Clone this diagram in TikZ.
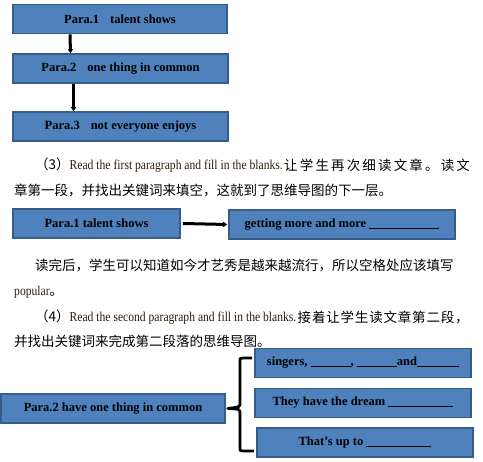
\documentclass[tikz,border=0pt]{standalone}
\usepackage{fontspec}
\setmainfont{Liberation Serif}
\newfontfamily\cjk{Noto Sans CJK SC}
\newfontfamily\cjkwide[LetterSpace=16]{Noto Sans CJK SC}
\newfontfamily\cjkmid[LetterSpace=6]{Noto Sans CJK SC}
\newfontfamily\engfont[FakeStretch=0.86]{Liberation Serif}
\usetikzlibrary{arrows.meta, positioning}

\definecolor{boxfill}{RGB}{79,129,189}
\definecolor{boxline}{RGB}{56,93,138}
\definecolor{engtext}{RGB}{45,28,5}
\newcommand{\eng}[1]{{\color{engtext}\fontsize{13.5}{15}\selectfont\engfont #1}}
\newcommand{\blank}[1]{\rule[-1pt]{#1}{0.8pt}}

\begin{document}
\begin{tikzpicture}[x=1pt, y=-1pt,
  parabox/.style={draw=boxline, fill=boxfill, line width=1.6pt, minimum height=29pt,
    inner sep=0pt, font={\fontsize{12.5}{14}\selectfont\bfseries}},
  link/.style={line width=3pt, -{Triangle[length=4pt,width=5pt]}},
  textline/.style={inner sep=0pt, font={\fontsize{13.5}{15}\selectfont\cjk}}]
\useasboundingbox (0,0) rectangle (483,462);
% Outline of the three paragraphs
\node[parabox, minimum width=214pt] (p1) at (120,19) {Para.1\hspace{11pt}talent shows};
\node[parabox, minimum width=215pt] (p2) at (120.5,68.5) {Para.2\hspace{11pt}one thing in common};
\node[parabox, minimum width=215pt] (p3) at (120.5,126.5) {Para.3\hspace{11pt}not everyone enjoys};
\draw[link] ([xshift=-50pt]p1.south) -- ([xshift=-50pt]p2.north);
\draw[link] ([xshift=-47pt]p2.south) -- ([xshift=-47pt]p3.north);
% Step (3)
\node[textline, anchor=west] (t1) at (35,165) {（3）\eng{Read the first paragraph and fill in the blanks.}};
\node[textline, anchor=west] (t1b) at ([xshift=1pt]t1.east) {\cjkwide 让学生再次细读文章。读文};
\node[textline, anchor=west] (t2) at (14,190) {章第一段，并找出关键词来填空，这就到了思维导图的下一层。};
% Para.1 map
\node[parabox, minimum width=167pt] (q1) at (96.5,223.5) {Para.1 talent shows};
\node[parabox, minimum width=226pt] (q2) at (342,224.5) {getting more and more \blank{70pt}};
\draw[link] ([xshift=2pt]q1.east) -- ([xshift=-1pt]q2.west);
% Notes after step (3), step (4)
\node[textline, anchor=west] (t3) at (35,265) {读完后，学生可以知道如今才艺秀是越来越流行，所以空格处应该填写};
\node[textline, anchor=west] (t4) at (14,292) {\eng{popular}。};
\node[textline, anchor=west] (t5) at (35,317) {（4）\eng{Read the second paragraph and fill in the blanks.}};
\node[textline, anchor=west] (t5b) at ([xshift=1pt]t5.east) {\cjkmid 接着让学生读文章第二段，};
\node[textline, anchor=west] (t6) at (14,341) {并找出关键词来完成第二段落的思维导图。};
% Para.2 map
\node[parabox, minimum width=224pt] (r0) at (113,408.5) {Para.2 have one thing in common};
\node[parabox, minimum width=216pt] (r1) at (363,363) {singers, \blank{40pt}, \blank{40pt}and\blank{42pt}};
\node[parabox, minimum width=216pt] (r2) at (363,403) {They have the dream \blank{65pt}};
\node[parabox, minimum width=216pt] (r3) at (365,442.5) {That's up to \blank{65pt}};
% Brace
\coordinate (tip) at ([xshift=2pt]r0.east);
\draw[line width=2.8pt, line join=round]
  ([xshift=-2pt]r1.west |- 0,358) -- (243,358) .. controls (240,358) .. (240,362)
  -- (240,403) .. controls (240,407) .. (tip) .. controls (240,409) .. (240,414)
  -- (240,447) .. controls (240,451) .. (243,451) -- ([xshift=-2pt]r3.west |- 0,451);
\end{tikzpicture}
\end{document}
